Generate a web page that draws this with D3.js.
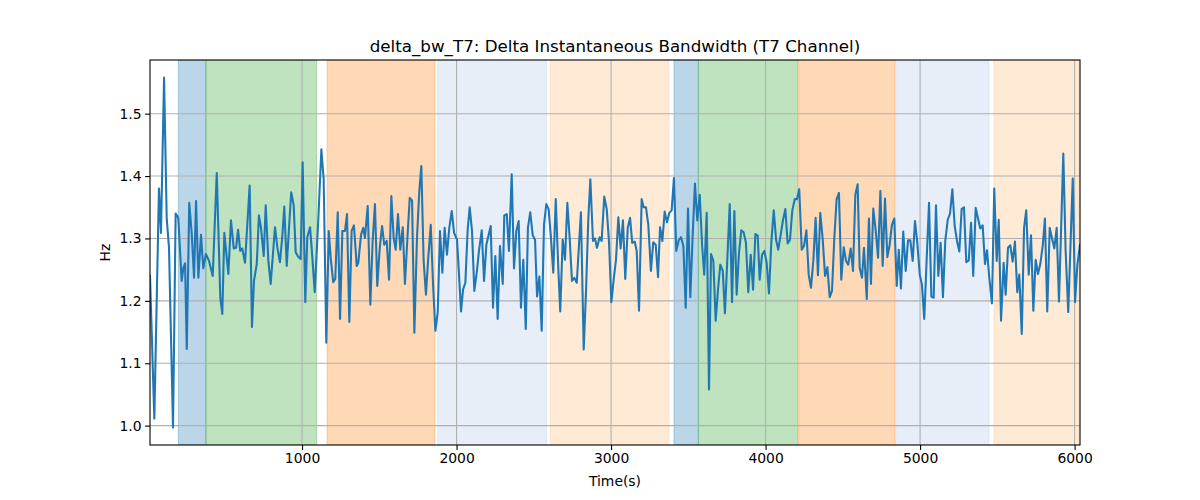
<!DOCTYPE html>
<html><head><meta charset="utf-8">
<script src="https://cdn.jsdelivr.net/npm/d3@7"></script>
<style>
body{margin:0;background:#fff}
svg text{font-family:"DejaVu Sans",sans-serif;fill:#000}
</style>
</head><body>
<svg id="chart" width="1200" height="500"></svg>
<script>
// ---- data ----
const times = [
16,44,74,87,107,124,139,165,182,199,
221,232,243,254,270,286,301,314,329,346,
361,378,398,422,448,471,484,497,523,540,
558,573,586,600,613,631,661,676,689,707,
721,734,752,765,782,797,825,840,857,872,
885,901,916,930,946,959,974,991,1004,1021,
1034,1052,1066,1082,1105,1125,1140,1157,1173,1186,
1202,1215,1231,1246,1261,1278,1291,1306,1321,1336,
1354,1364,1382,1396,1407,1425,1442,1457,1472,1487,
1503,1518,1532,1548,1563,1578,1593,1606,1621,1636,
1652,1666,1681,1697,1712,1727,1744,1759,1772,1787,
1802,1817,1833,1848,1863,1878,1893,1908,1923,1938,
1953,1969,1984,2003,2016,2029,2042,2057,2072,2085,
2100,2115,2132,2145,2163,2178,2193,2206,2221,2236,
2251,2266,2281,2299,2309,2325,2339,2357,2372,2387,
2402,2417,2432,2448,2462,2477,2493,2508,2521,2536,
2551,2566,2581,2596,2611,2626,2642,2659,2671,2687,
2702,2717,2732,2747,2762,2778,2792,2805,2823,2838,
2853,2866,2883,2896,2909,2926,2939,2956,2972,2987,
3002,3017,3032,3047,3062,3077,3092,3108,3123,3137,
3153,3166,3181,3198,3211,3226,3241,3258,3273,3289,
3304,3317,3332,3347,3362,3377,3392,3407,3422,3438,
3453,3468,3483,3498,3513,3528,3543,3558,3574,3589,
3603,3619,3634,3647,3662,3677,3692,3707,3723,3737,
3752,3768,3783,3798,3813,3828,3843,3858,3873,3888,
3904,3919,3934,3949,3962,3977,3992,4007,4022,4037,
4053,4068,4082,4098,4113,4128,4143,4158,4173,4189,
4203,4218,4234,4249,4264,4279,4294,4309,4324,4339,
4354,4370,4385,4400,4415,4430,4445,4460,4475,4490,
4506,4521,4535,4551,4566,4581,4596,4609,4624,4637,
4655,4669,4682,4697,4713,4728,4743,4758,4773,4788,
4803,4818,4833,4849,4862,4876,4891,4907,4922,4937,
4952,4967,4982,4998,5012,5027,5043,5058,5073,5088,
5103,5118,5133,5148,5163,5179,5194,5209,5224,5239,
5254,5269,5284,5299,5315,5330,5344,5360,5375,5390,
5405,5420,5433,5448,5465,5480,5496,5509,5524,5541,
5554,5569,5584,5599,5614,5629,5642,5658,5673,5687,
5703,5718,5733,5748,5763,5778,5794,5808,5823,5839,
5854,5869,5884,5899,5927,5942,5959,5988,6003,6018,
6035
];
const deltaBw = [
1.240,1.011,1.380,1.309,1.558,1.333,1.285,0.997,1.340,1.333,
1.232,1.253,1.260,1.123,1.357,1.308,1.237,1.360,1.237,1.306,
1.252,1.275,1.264,1.240,1.405,1.205,1.179,1.309,1.243,1.329,
1.284,1.285,1.314,1.280,1.284,1.261,1.385,1.158,1.232,1.259,
1.337,1.318,1.272,1.353,1.264,1.227,1.318,1.286,1.262,1.302,
1.351,1.256,1.318,1.374,1.353,1.278,1.271,1.267,1.422,1.198,
1.302,1.318,1.272,1.214,1.329,1.443,1.395,1.133,1.312,1.267,
1.230,1.235,1.342,1.171,1.312,1.312,1.339,1.166,1.312,1.321,
1.256,1.261,1.306,1.317,1.301,1.352,1.194,1.296,1.355,1.224,
1.285,1.320,1.290,1.296,1.234,1.368,1.301,1.282,1.339,1.282,
1.318,1.227,1.296,1.365,1.361,1.149,1.301,1.376,1.416,1.264,
1.210,1.269,1.322,1.226,1.152,1.181,1.312,1.245,1.317,1.274,
1.317,1.344,1.309,1.298,1.242,1.183,1.218,1.229,1.314,1.350,
1.312,1.216,1.248,1.280,1.313,1.232,1.290,1.304,1.320,1.189,
1.272,1.171,1.288,1.227,1.337,1.339,1.280,1.403,1.252,1.312,
1.328,1.189,1.266,1.155,1.317,1.342,1.305,1.298,1.207,1.239,
1.152,1.322,1.355,1.347,1.301,1.245,1.363,1.250,1.183,1.298,
1.266,1.357,1.301,1.232,1.237,1.229,1.288,1.342,1.122,1.216,
1.333,1.395,1.296,1.300,1.285,1.302,1.296,1.367,1.347,1.293,
1.198,1.234,1.266,1.334,1.284,1.329,1.235,1.317,1.333,1.293,
1.295,1.280,1.184,1.363,1.350,1.350,1.322,1.248,1.294,1.290,
1.238,1.318,1.296,1.343,1.326,1.341,1.345,1.397,1.280,1.297,
1.302,1.288,1.189,1.348,1.206,1.304,1.388,1.329,1.370,1.290,
1.242,1.341,1.058,1.275,1.264,1.168,1.218,1.258,1.248,1.180,
1.264,1.355,1.198,1.344,1.210,1.277,1.313,1.310,1.293,1.214,
1.274,1.218,1.307,1.305,1.234,1.274,1.280,1.261,1.212,1.293,
1.345,1.298,1.282,1.306,1.330,1.347,1.292,1.298,1.345,1.363,
1.363,1.379,1.282,1.288,1.313,1.242,1.221,1.264,1.333,1.241,
1.341,1.298,1.240,1.254,1.206,1.216,1.301,1.363,1.373,1.234,
1.286,1.264,1.258,1.284,1.248,1.370,1.387,1.253,1.237,1.285,
1.203,1.332,1.227,1.348,1.312,1.269,1.376,1.256,1.364,1.270,
1.290,1.322,1.332,1.224,1.282,1.220,1.311,1.248,1.297,1.297,
1.264,1.328,1.293,1.242,1.226,1.171,1.269,1.357,1.207,1.205,
1.353,1.240,1.293,1.206,1.296,1.330,1.340,1.379,1.320,1.296,
1.279,1.347,1.350,1.262,1.265,1.325,1.240,1.349,1.332,1.316,
1.321,1.259,1.281,1.237,1.196,1.380,1.264,1.330,1.168,1.261,
1.210,1.285,1.289,1.263,1.295,1.214,1.242,1.147,1.317,1.345,
1.242,1.305,1.184,1.266,1.243,1.259,1.289,1.332,1.183,1.317,
1.300,1.284,1.317,1.199,1.436,1.280,1.182,1.396,1.198,1.258,
1.290
];
// shaded segments: start, end, kind
const bandStart = [199, 378, 1162, 1878, 2605, 3407, 3565, 4214, 4842, 5478];
const bandEnd   = [378, 1095, 1861, 2583, 3375, 3565, 4208, 4838, 5446, 6028];
const bandKind  = ["A","B","C","D","E","A","B","C","D","E"];
const xTicks = [1000, 2000, 3000, 4000, 5000, 6000];
const yTicks = [1.0, 1.1, 1.2, 1.3, 1.4, 1.5];
const titleText = "delta_bw_T7: Delta Instantaneous Bandwidth (T7 Channel)";
const xLabel = "Time(s)";
const yLabel = "Hz";

// ---- layout / style ----
const M = {left:150, right:1080, top:60, bottom:445};
const kindColor = d3.scaleOrdinal()
  .domain(["A","B","C","D","E"])
  .range(["#1f77b4","#2ca02c","#ff7f0e","#aec7e8","#ffbb78"]);

const svg = d3.select("#chart");
const x = d3.scaleLinear().domain([times[0], times[times.length-1]]).range([M.left, M.right]);
const yMin = d3.min(deltaBw), yMax = d3.max(deltaBw), pad = (yMax - yMin) * 0.05;
const y = d3.scaleLinear().domain([yMin - pad, yMax + pad]).range([M.bottom, M.top]);

svg.append("defs").append("clipPath").attr("id","clip")
  .append("rect").attr("x",M.left).attr("y",M.top)
  .attr("width",M.right-M.left).attr("height",M.bottom-M.top);

// bands
svg.append("g").attr("clip-path","url(#clip)")
  .selectAll("rect").data(d3.range(bandStart.length)).join("rect")
  .attr("x", i => x(bandStart[i]))
  .attr("width", i => x(bandEnd[i]) - x(bandStart[i]))
  .attr("y", M.top).attr("height", M.bottom - M.top)
  .attr("fill", i => kindColor(bandKind[i])).attr("fill-opacity", 0.3)
  .attr("stroke", i => kindColor(bandKind[i])).attr("stroke-opacity", 0.3)
  .attr("stroke-width", 1);

// grid
const grid = svg.append("g");
grid.selectAll(".gx").data(xTicks).join("line")
  .attr("x1", d => x(d)).attr("x2", d => x(d))
  .attr("y1", M.top).attr("y2", M.bottom)
  .attr("stroke","#b0b0b0").attr("stroke-width",1.1);
grid.selectAll(".gy").data(yTicks).join("line")
  .attr("y1", d => y(d)).attr("y2", d => y(d))
  .attr("x1", M.left).attr("x2", M.right)
  .attr("stroke","#b0b0b0").attr("stroke-width",1.1);

// line
const pts = d3.zip(times, deltaBw);
svg.append("path").datum(pts).attr("clip-path","url(#clip)")
  .attr("fill","none").attr("stroke","#1f77b4").attr("stroke-width",2.08)
  .attr("stroke-linejoin","round").attr("stroke-linecap","square")
  .attr("d", d3.line().x(d => x(d[0])).y(d => y(d[1])));

// frame
svg.append("rect").attr("x",M.left).attr("y",M.top)
  .attr("width",M.right-M.left).attr("height",M.bottom-M.top)
  .attr("fill","none").attr("stroke","#000").attr("stroke-width",1.1);

// axes
const fs = "13.9px";
const xa = svg.append("g").attr("transform",`translate(0,${M.bottom})`)
  .call(d3.axisBottom(x).tickValues(xTicks).tickFormat(d3.format("d")).tickSize(4.9).tickSizeOuter(0).tickPadding(3.5));
xa.select(".domain").remove();
xa.selectAll("line").attr("stroke","#000").attr("stroke-width",1.1);
xa.selectAll("text").style("font-size",fs).style("font-family","DejaVu Sans");

const ya = svg.append("g").attr("transform",`translate(${M.left},0)`)
  .call(d3.axisLeft(y).tickValues(yTicks).tickFormat(d3.format(".1f")).tickSize(4.9).tickSizeOuter(0).tickPadding(3.5));
ya.select(".domain").remove();
ya.selectAll("line").attr("stroke","#000").attr("stroke-width",1.1);
ya.selectAll("text").style("font-size",fs).style("font-family","DejaVu Sans");

// title & labels
svg.append("text").attr("x",(M.left+M.right)/2).attr("y",52)
  .attr("text-anchor","middle").style("font-size","16.7px").text(titleText);
svg.append("text").attr("x",(M.left+M.right)/2).attr("y",486)
  .attr("text-anchor","middle").style("font-size",fs).text(xLabel);
svg.append("text").attr("transform",`translate(110,${(M.top+M.bottom)/2}) rotate(-90)`)
  .attr("text-anchor","middle").style("font-size",fs).text(yLabel);
</script>
</body></html>
